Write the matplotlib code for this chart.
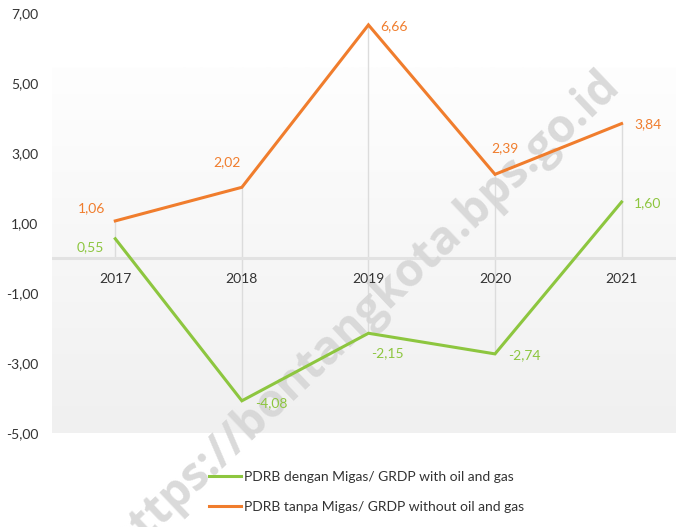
import numpy as np
import matplotlib
matplotlib.use("Agg")
import matplotlib.pyplot as plt
from matplotlib.lines import Line2D

plt.rcParams['font.family'] = ['Lato', 'DejaVu Sans']

years = ['2017', '2018', '2019', '2020', '2021']
with_oil_gas = [0.55, -4.08, -2.15, -2.74, 1.60]
without_oil_gas = [1.06, 2.02, 6.66, 2.39, 3.84]
y_ticks = [-5, -3, -1, 1, 3, 5, 7]

label_with = 'PDRB dengan Migas/ GRDP with oil and gas'
label_without = 'PDRB tanpa Migas/ GRDP without oil and gas'

green = '#8DC63F'
orange = '#F07D2D'
text_col = '#333333'

W, H = 676, 527
fig = plt.figure(figsize=(W / 100, H / 100), dpi=100)
ax = fig.add_axes([52 / W, 1 - 433 / H, 1 - 52 / W, (433 - 13) / H])

x = np.arange(len(years))
ax.set_xlim(-0.5, 4.43)
ax.set_ylim(-5, 7)

# soft vertical gradient behind the plot
grad = np.linspace(0, 1, 256).reshape(-1, 1)
cmap = matplotlib.colors.LinearSegmentedColormap.from_list('bg', ['#f0f0f0', '#fefefe'])
ax.imshow(grad, extent=[-0.5, 4.43, -5, 5.43], origin='lower', aspect='auto',
          cmap=cmap, zorder=0)

# drop lines at each year
lo = np.minimum(0, np.minimum(with_oil_gas, without_oil_gas))
hi = np.maximum(0, np.maximum(with_oil_gas, without_oil_gas))
ax.vlines(x, lo, hi, color='#dcdcdc', lw=1, zorder=1)
ax.axhline(0, color='#e2e2e2', lw=2.2, zorder=1)

# watermark
ax.text(364 / W, 1 - 314 / H, 'https://bontangkota.bps.go.id', transform=fig.transFigure,
        rotation=43.5, ha='center', va='center', fontsize=33, fontweight='bold',
        color='#d6d6d6', alpha=0.9, clip_on=False, zorder=1.5,
        family=['Open Sans', 'DejaVu Sans'])

ax.plot(x, with_oil_gas, color=green, lw=2.2, zorder=3, solid_joinstyle='miter')
ax.plot(x, without_oil_gas, color=orange, lw=2.2, zorder=3, solid_joinstyle='miter')

def fmt(v):
    return f'{v:.2f}'.replace('.', ',')

green_offsets = [(-25, -8), (29, -2), (19, -20), (29, -1), (26, -1)]
orange_offsets = [(-24, 13), (-15, 25), (26, -1), (10, 26), (26, -1)]
for xi, v, off in zip(x, with_oil_gas, green_offsets):
    ax.annotate(fmt(v), (xi, v), xytext=off, textcoords='offset pixels',
                ha='center', va='center', color=green, fontsize=10, zorder=4)
for xi, v, off in zip(x, without_oil_gas, orange_offsets):
    ax.annotate(fmt(v), (xi, v), xytext=off, textcoords='offset pixels',
                ha='center', va='center', color=orange, fontsize=10, zorder=4)

# year labels just under the zero line
for xi, yr in zip(x, years):
    ax.annotate(yr, (xi, 0), xytext=(0, -21), textcoords='offset pixels',
                ha='center', va='center', color=text_col, fontsize=10, zorder=4)

ax.set_xticks([])
ax.set_yticks(y_ticks)
ax.set_yticklabels([fmt(t) for t in y_ticks], color=text_col, fontsize=10)
ax.tick_params(axis='y', length=0, pad=10)
for s in ax.spines.values():
    s.set_visible(False)
ax.patch.set_visible(False)

handles = [Line2D([], [], color=green, lw=2.2), Line2D([], [], color=orange, lw=2.2)]
fig.legend(handles, [label_with, label_without], loc='upper left',
           bbox_to_anchor=(209 / W, 1 - 471 / H), frameon=False, fontsize=10,
           handlelength=2.3, handletextpad=0.25, labelspacing=1.3,
           labelcolor=text_col, borderaxespad=0, borderpad=0)

fig.savefig('out.png', dpi=100)
